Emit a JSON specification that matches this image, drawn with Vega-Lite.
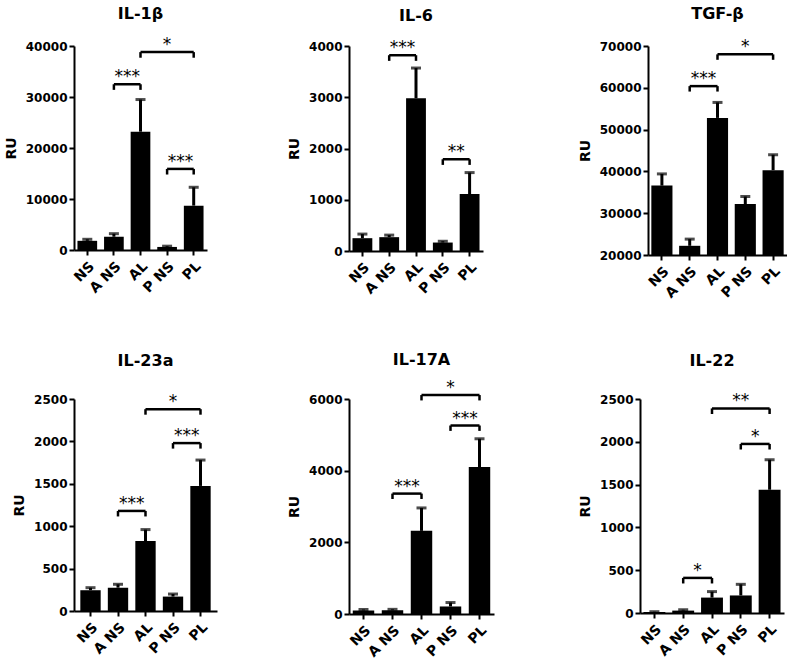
{
  "$schema": "https://vega.github.io/schema/vega-lite/v6.json",
  "padding": {"left": 4, "top": 6, "right": 0, "bottom": 0},
  "background": "white",
  "datasets": {
    "bars": [
      {"panel": "IL-1β", "group": "NS", "mean": 1800, "upper": 2100},
      {"panel": "IL-1β", "group": "A NS", "mean": 2600, "upper": 3200},
      {"panel": "IL-1β", "group": "AL", "mean": 23200, "upper": 29500},
      {"panel": "IL-1β", "group": "P NS", "mean": 600, "upper": 750},
      {"panel": "IL-1β", "group": "PL", "mean": 8700, "upper": 12300},
      {"panel": "IL-6", "group": "NS", "mean": 250, "upper": 330},
      {"panel": "IL-6", "group": "A NS", "mean": 270, "upper": 310},
      {"panel": "IL-6", "group": "AL", "mean": 2980, "upper": 3570},
      {"panel": "IL-6", "group": "P NS", "mean": 165, "upper": 190},
      {"panel": "IL-6", "group": "PL", "mean": 1110, "upper": 1530},
      {"panel": "TGF-β", "group": "NS", "mean": 36600, "upper": 39400},
      {"panel": "TGF-β", "group": "A NS", "mean": 22200, "upper": 23800},
      {"panel": "TGF-β", "group": "AL", "mean": 52800, "upper": 56500},
      {"panel": "TGF-β", "group": "P NS", "mean": 32200, "upper": 34000},
      {"panel": "TGF-β", "group": "PL", "mean": 40300, "upper": 44000},
      {"panel": "IL-23a", "group": "NS", "mean": 245, "upper": 275},
      {"panel": "IL-23a", "group": "A NS", "mean": 275, "upper": 315},
      {"panel": "IL-23a", "group": "AL", "mean": 825, "upper": 960},
      {"panel": "IL-23a", "group": "P NS", "mean": 170, "upper": 200},
      {"panel": "IL-23a", "group": "PL", "mean": 1475, "upper": 1780},
      {"panel": "IL-17A", "group": "NS", "mean": 100, "upper": 125},
      {"panel": "IL-17A", "group": "A NS", "mean": 105, "upper": 130},
      {"panel": "IL-17A", "group": "AL", "mean": 2320, "upper": 2960},
      {"panel": "IL-17A", "group": "P NS", "mean": 210, "upper": 320},
      {"panel": "IL-17A", "group": "PL", "mean": 4100, "upper": 4890},
      {"panel": "IL-22", "group": "NS", "mean": 12, "upper": 15},
      {"panel": "IL-22", "group": "A NS", "mean": 28, "upper": 38},
      {"panel": "IL-22", "group": "AL", "mean": 180, "upper": 250},
      {"panel": "IL-22", "group": "P NS", "mean": 205, "upper": 335},
      {"panel": "IL-22", "group": "PL", "mean": 1440, "upper": 1790}
    ],
    "brackets": [
      {"panel": "IL-1β", "x1": "A NS", "x2": "AL", "xm": "A NS", "span": 1, "y": 32500, "yd": 31400, "label": "***"},
      {"panel": "IL-1β", "x1": "AL", "x2": "PL", "xm": "P NS", "span": 2, "y": 38800, "yd": 37700, "label": "*"},
      {"panel": "IL-1β", "x1": "P NS", "x2": "PL", "xm": "P NS", "span": 1, "y": 15900, "yd": 14800, "label": "***"},
      {"panel": "IL-6", "x1": "A NS", "x2": "AL", "xm": "A NS", "span": 1, "y": 3820, "yd": 3710, "label": "***"},
      {"panel": "IL-6", "x1": "P NS", "x2": "PL", "xm": "P NS", "span": 1, "y": 1790, "yd": 1680, "label": "**"},
      {"panel": "TGF-β", "x1": "A NS", "x2": "AL", "xm": "A NS", "span": 1, "y": 60400, "yd": 59100, "label": "***"},
      {"panel": "TGF-β", "x1": "AL", "x2": "PL", "xm": "P NS", "span": 2, "y": 68000, "yd": 66700, "label": "*"},
      {"panel": "IL-23a", "x1": "A NS", "x2": "AL", "xm": "A NS", "span": 1, "y": 1180, "yd": 1115, "label": "***"},
      {"panel": "IL-23a", "x1": "P NS", "x2": "PL", "xm": "P NS", "span": 1, "y": 1980, "yd": 1915, "label": "***"},
      {"panel": "IL-23a", "x1": "AL", "x2": "PL", "xm": "P NS", "span": 2, "y": 2380, "yd": 2315, "label": "*"},
      {"panel": "IL-17A", "x1": "A NS", "x2": "AL", "xm": "A NS", "span": 1, "y": 3360, "yd": 3210, "label": "***"},
      {"panel": "IL-17A", "x1": "P NS", "x2": "PL", "xm": "P NS", "span": 1, "y": 5260, "yd": 5110, "label": "***"},
      {"panel": "IL-17A", "x1": "AL", "x2": "PL", "xm": "P NS", "span": 2, "y": 6110, "yd": 5960, "label": "*"},
      {"panel": "IL-22", "x1": "A NS", "x2": "AL", "xm": "A NS", "span": 1, "y": 410, "yd": 345, "label": "*"},
      {"panel": "IL-22", "x1": "P NS", "x2": "PL", "xm": "P NS", "span": 1, "y": 1975, "yd": 1910, "label": "*"},
      {"panel": "IL-22", "x1": "AL", "x2": "PL", "xm": "P NS", "span": 2, "y": 2390, "yd": 2325, "label": "**"}
    ]
  },
  "vconcat": [
    {
      "spacing": 95,
      "hconcat": [
        {
          "spacing": 80,
          "hconcat": [
            {
              "width": 133, "height": 204,
              "title": {"text": "IL-1β", "offset": 14},
              "data": {"name": "bars"},
              "transform": [{"filter": "datum.panel === 'IL-1β'"}],
              "layer": [
                {"mark": {"type": "bar", "color": "black", "width": {"band": 0.74}},
                 "encoding": {
                   "x": {"field": "group", "type": "nominal", "axis": {"title": null}, "scale": {"domain": ["NS", "A NS", "AL", "P NS", "PL"], "paddingInner": 0, "paddingOuter": 0}},
                   "y": {"field": "mean", "type": "quantitative", "axis": {"title": "RU", "format": "d", "values": [0, 10000, 20000, 30000, 40000]}, "scale": {"domain": [0, 40000], "nice": false}}}},
                {"mark": {"type": "rule", "color": "black", "strokeWidth": 3},
                 "encoding": {"x": {"field": "group", "type": "nominal"}, "y": {"field": "mean", "type": "quantitative"}, "y2": {"field": "upper"}}},
                {"mark": {"type": "tick", "color": "black", "thickness": 3, "size": 10},
                 "encoding": {"x": {"field": "group", "type": "nominal"}, "y": {"field": "upper", "type": "quantitative"}}},
                {"data": {"name": "brackets"}, "transform": [{"filter": "datum.panel === 'IL-1β'"}],
                 "layer": [
                   {"mark": {"type": "rule", "color": "black", "strokeWidth": 2.5}, "encoding": {"x": {"field": "x1", "type": "nominal"}, "x2": {"field": "x2"}, "y": {"field": "y", "type": "quantitative"}}},
                   {"mark": {"type": "rule", "color": "black", "strokeWidth": 2.5}, "encoding": {"x": {"field": "x1", "type": "nominal"}, "y": {"field": "y", "type": "quantitative"}, "y2": {"field": "yd"}}},
                   {"mark": {"type": "rule", "color": "black", "strokeWidth": 2.5}, "encoding": {"x": {"field": "x2", "type": "nominal"}, "y": {"field": "y", "type": "quantitative"}, "y2": {"field": "yd"}}},
                   {"transform": [{"filter": "datum.span === 1"}], "mark": {"type": "text", "font": "DejaVu Sans", "fontSize": 17, "baseline": "alphabetic", "dy": -2, "color": "black"}, "encoding": {"x": {"field": "xm", "type": "nominal", "bandPosition": 1}, "y": {"field": "y", "type": "quantitative"}, "text": {"field": "label"}}},
                   {"transform": [{"filter": "datum.span === 2"}], "mark": {"type": "text", "font": "DejaVu Sans", "fontSize": 17, "baseline": "alphabetic", "dy": -2, "color": "black"}, "encoding": {"x": {"field": "xm", "type": "nominal", "bandPosition": 0.5}, "y": {"field": "y", "type": "quantitative"}, "text": {"field": "label"}}}
                 ]}
              ]
            },
            {
              "width": 134, "height": 205,
              "title": {"text": "IL-6", "offset": 15},
              "data": {"name": "bars"},
              "transform": [{"filter": "datum.panel === 'IL-6'"}],
              "layer": [
                {"mark": {"type": "bar", "color": "black", "width": {"band": 0.74}},
                 "encoding": {
                   "x": {"field": "group", "type": "nominal", "axis": {"title": null}, "scale": {"domain": ["NS", "A NS", "AL", "P NS", "PL"], "paddingInner": 0, "paddingOuter": 0}},
                   "y": {"field": "mean", "type": "quantitative", "axis": {"title": "RU", "format": "d", "values": [0, 1000, 2000, 3000, 4000]}, "scale": {"domain": [0, 4000], "nice": false}}}},
                {"mark": {"type": "rule", "color": "black", "strokeWidth": 3},
                 "encoding": {"x": {"field": "group", "type": "nominal"}, "y": {"field": "mean", "type": "quantitative"}, "y2": {"field": "upper"}}},
                {"mark": {"type": "tick", "color": "black", "thickness": 3, "size": 10},
                 "encoding": {"x": {"field": "group", "type": "nominal"}, "y": {"field": "upper", "type": "quantitative"}}},
                {"data": {"name": "brackets"}, "transform": [{"filter": "datum.panel === 'IL-6'"}],
                 "layer": [
                   {"mark": {"type": "rule", "color": "black", "strokeWidth": 2.5}, "encoding": {"x": {"field": "x1", "type": "nominal"}, "x2": {"field": "x2"}, "y": {"field": "y", "type": "quantitative"}}},
                   {"mark": {"type": "rule", "color": "black", "strokeWidth": 2.5}, "encoding": {"x": {"field": "x1", "type": "nominal"}, "y": {"field": "y", "type": "quantitative"}, "y2": {"field": "yd"}}},
                   {"mark": {"type": "rule", "color": "black", "strokeWidth": 2.5}, "encoding": {"x": {"field": "x2", "type": "nominal"}, "y": {"field": "y", "type": "quantitative"}, "y2": {"field": "yd"}}},
                   {"transform": [{"filter": "datum.span === 1"}], "mark": {"type": "text", "font": "DejaVu Sans", "fontSize": 17, "baseline": "alphabetic", "dy": -2, "color": "black"}, "encoding": {"x": {"field": "xm", "type": "nominal", "bandPosition": 1}, "y": {"field": "y", "type": "quantitative"}, "text": {"field": "label"}}},
                   {"transform": [{"filter": "datum.span === 2"}], "mark": {"type": "text", "font": "DejaVu Sans", "fontSize": 17, "baseline": "alphabetic", "dy": -2, "color": "black"}, "encoding": {"x": {"field": "xm", "type": "nominal", "bandPosition": 0.5}, "y": {"field": "y", "type": "quantitative"}, "text": {"field": "label"}}}
                 ]}
              ]
            }
          ]
        },
        {
          "width": 139, "height": 209,
          "title": {"text": "TGF-β", "offset": 16},
          "data": {"name": "bars"},
          "transform": [{"filter": "datum.panel === 'TGF-β'"}],
          "layer": [
            {"mark": {"type": "bar", "color": "black", "width": {"band": 0.76}},
             "encoding": {
               "x": {"field": "group", "type": "nominal", "axis": {"title": null}, "scale": {"domain": ["NS", "A NS", "AL", "P NS", "PL"], "paddingInner": 0, "paddingOuter": 0}},
               "y": {"field": "mean", "type": "quantitative", "axis": {"title": "RU", "format": "d", "values": [20000, 30000, 40000, 50000, 60000, 70000]}, "scale": {"domain": [20000, 70000], "nice": false, "zero": false}},
               "y2": {"datum": 20000}}},
            {"mark": {"type": "rule", "color": "black", "strokeWidth": 3},
             "encoding": {"x": {"field": "group", "type": "nominal"}, "y": {"field": "mean", "type": "quantitative"}, "y2": {"field": "upper"}}},
            {"mark": {"type": "tick", "color": "black", "thickness": 3, "size": 10},
             "encoding": {"x": {"field": "group", "type": "nominal"}, "y": {"field": "upper", "type": "quantitative"}}},
            {"data": {"name": "brackets"}, "transform": [{"filter": "datum.panel === 'TGF-β'"}],
             "layer": [
               {"mark": {"type": "rule", "color": "black", "strokeWidth": 2.5}, "encoding": {"x": {"field": "x1", "type": "nominal"}, "x2": {"field": "x2"}, "y": {"field": "y", "type": "quantitative"}}},
               {"mark": {"type": "rule", "color": "black", "strokeWidth": 2.5}, "encoding": {"x": {"field": "x1", "type": "nominal"}, "y": {"field": "y", "type": "quantitative"}, "y2": {"field": "yd"}}},
               {"mark": {"type": "rule", "color": "black", "strokeWidth": 2.5}, "encoding": {"x": {"field": "x2", "type": "nominal"}, "y": {"field": "y", "type": "quantitative"}, "y2": {"field": "yd"}}},
               {"transform": [{"filter": "datum.span === 1"}], "mark": {"type": "text", "font": "DejaVu Sans", "fontSize": 17, "baseline": "alphabetic", "dy": -2, "color": "black"}, "encoding": {"x": {"field": "xm", "type": "nominal", "bandPosition": 1}, "y": {"field": "y", "type": "quantitative"}, "text": {"field": "label"}}},
               {"transform": [{"filter": "datum.span === 2"}], "mark": {"type": "text", "font": "DejaVu Sans", "fontSize": 17, "baseline": "alphabetic", "dy": -2, "color": "black"}, "encoding": {"x": {"field": "xm", "type": "nominal", "bandPosition": 0.5}, "y": {"field": "y", "type": "quantitative"}, "text": {"field": "label"}}}
             ]}
          ]
        }
      ]
    },
    {
      "spacing": 84,
      "hconcat": [
        {
          "spacing": 70,
          "hconcat": [
            {
              "width": 143, "height": 212,
              "title": {"text": "IL-23a", "offset": 24},
              "data": {"name": "bars"},
              "transform": [{"filter": "datum.panel === 'IL-23a'"}],
              "layer": [
                {"mark": {"type": "bar", "color": "black", "width": {"band": 0.74}},
                 "encoding": {
                   "x": {"field": "group", "type": "nominal", "axis": {"title": null}, "scale": {"domain": ["NS", "A NS", "AL", "P NS", "PL"], "paddingInner": 0, "paddingOuter": 0.1}},
                   "y": {"field": "mean", "type": "quantitative", "axis": {"title": "RU", "format": "d", "values": [0, 500, 1000, 1500, 2000, 2500]}, "scale": {"domain": [0, 2500], "nice": false}}}},
                {"mark": {"type": "rule", "color": "black", "strokeWidth": 3},
                 "encoding": {"x": {"field": "group", "type": "nominal"}, "y": {"field": "mean", "type": "quantitative"}, "y2": {"field": "upper"}}},
                {"mark": {"type": "tick", "color": "black", "thickness": 3, "size": 10},
                 "encoding": {"x": {"field": "group", "type": "nominal"}, "y": {"field": "upper", "type": "quantitative"}}},
                {"data": {"name": "brackets"}, "transform": [{"filter": "datum.panel === 'IL-23a'"}],
                 "layer": [
                   {"mark": {"type": "rule", "color": "black", "strokeWidth": 2.5}, "encoding": {"x": {"field": "x1", "type": "nominal"}, "x2": {"field": "x2"}, "y": {"field": "y", "type": "quantitative"}}},
                   {"mark": {"type": "rule", "color": "black", "strokeWidth": 2.5}, "encoding": {"x": {"field": "x1", "type": "nominal"}, "y": {"field": "y", "type": "quantitative"}, "y2": {"field": "yd"}}},
                   {"mark": {"type": "rule", "color": "black", "strokeWidth": 2.5}, "encoding": {"x": {"field": "x2", "type": "nominal"}, "y": {"field": "y", "type": "quantitative"}, "y2": {"field": "yd"}}},
                   {"transform": [{"filter": "datum.span === 1"}], "mark": {"type": "text", "font": "DejaVu Sans", "fontSize": 17, "baseline": "alphabetic", "dy": -2, "color": "black"}, "encoding": {"x": {"field": "xm", "type": "nominal", "bandPosition": 1}, "y": {"field": "y", "type": "quantitative"}, "text": {"field": "label"}}},
                   {"transform": [{"filter": "datum.span === 2"}], "mark": {"type": "text", "font": "DejaVu Sans", "fontSize": 17, "baseline": "alphabetic", "dy": -2, "color": "black"}, "encoding": {"x": {"field": "xm", "type": "nominal", "bandPosition": 0.5}, "y": {"field": "y", "type": "quantitative"}, "text": {"field": "label"}}}
                 ]}
              ]
            },
            {
              "width": 145, "height": 215,
              "title": {"text": "IL-17A", "offset": 11},
              "data": {"name": "bars"},
              "transform": [{"filter": "datum.panel === 'IL-17A'"}],
              "layer": [
                {"mark": {"type": "bar", "color": "black", "width": {"band": 0.74}},
                 "encoding": {
                   "x": {"field": "group", "type": "nominal", "axis": {"title": null}, "scale": {"domain": ["NS", "A NS", "AL", "P NS", "PL"], "paddingInner": 0, "paddingOuter": 0}},
                   "y": {"field": "mean", "type": "quantitative", "axis": {"title": "RU", "format": "d", "values": [0, 2000, 4000, 6000]}, "scale": {"domain": [0, 6000], "nice": false}}}},
                {"mark": {"type": "rule", "color": "black", "strokeWidth": 3},
                 "encoding": {"x": {"field": "group", "type": "nominal"}, "y": {"field": "mean", "type": "quantitative"}, "y2": {"field": "upper"}}},
                {"mark": {"type": "tick", "color": "black", "thickness": 3, "size": 10},
                 "encoding": {"x": {"field": "group", "type": "nominal"}, "y": {"field": "upper", "type": "quantitative"}}},
                {"data": {"name": "brackets"}, "transform": [{"filter": "datum.panel === 'IL-17A'"}],
                 "layer": [
                   {"mark": {"type": "rule", "color": "black", "strokeWidth": 2.5}, "encoding": {"x": {"field": "x1", "type": "nominal"}, "x2": {"field": "x2"}, "y": {"field": "y", "type": "quantitative"}}},
                   {"mark": {"type": "rule", "color": "black", "strokeWidth": 2.5}, "encoding": {"x": {"field": "x1", "type": "nominal"}, "y": {"field": "y", "type": "quantitative"}, "y2": {"field": "yd"}}},
                   {"mark": {"type": "rule", "color": "black", "strokeWidth": 2.5}, "encoding": {"x": {"field": "x2", "type": "nominal"}, "y": {"field": "y", "type": "quantitative"}, "y2": {"field": "yd"}}},
                   {"transform": [{"filter": "datum.span === 1"}], "mark": {"type": "text", "font": "DejaVu Sans", "fontSize": 17, "baseline": "alphabetic", "dy": -2, "color": "black"}, "encoding": {"x": {"field": "xm", "type": "nominal", "bandPosition": 1}, "y": {"field": "y", "type": "quantitative"}, "text": {"field": "label"}}},
                   {"transform": [{"filter": "datum.span === 2"}], "mark": {"type": "text", "font": "DejaVu Sans", "fontSize": 17, "baseline": "alphabetic", "dy": -2, "color": "black"}, "encoding": {"x": {"field": "xm", "type": "nominal", "bandPosition": 0.5}, "y": {"field": "y", "type": "quantitative"}, "text": {"field": "label"}}}
                 ]}
              ]
            }
          ]
        },
        {
          "width": 144, "height": 214,
          "title": {"text": "IL-22", "offset": 23},
          "data": {"name": "bars"},
          "transform": [{"filter": "datum.panel === 'IL-22'"}],
          "layer": [
            {"mark": {"type": "bar", "color": "black", "width": {"band": 0.76}},
             "encoding": {
               "x": {"field": "group", "type": "nominal", "axis": {"title": null}, "scale": {"domain": ["NS", "A NS", "AL", "P NS", "PL"], "paddingInner": 0, "paddingOuter": 0}},
               "y": {"field": "mean", "type": "quantitative", "axis": {"title": "RU", "format": "d", "values": [0, 500, 1000, 1500, 2000, 2500]}, "scale": {"domain": [0, 2500], "nice": false}}}},
            {"mark": {"type": "rule", "color": "black", "strokeWidth": 3},
             "encoding": {"x": {"field": "group", "type": "nominal"}, "y": {"field": "mean", "type": "quantitative"}, "y2": {"field": "upper"}}},
            {"mark": {"type": "tick", "color": "black", "thickness": 3, "size": 10},
             "encoding": {"x": {"field": "group", "type": "nominal"}, "y": {"field": "upper", "type": "quantitative"}}},
            {"data": {"name": "brackets"}, "transform": [{"filter": "datum.panel === 'IL-22'"}],
             "layer": [
               {"mark": {"type": "rule", "color": "black", "strokeWidth": 2.5}, "encoding": {"x": {"field": "x1", "type": "nominal"}, "x2": {"field": "x2"}, "y": {"field": "y", "type": "quantitative"}}},
               {"mark": {"type": "rule", "color": "black", "strokeWidth": 2.5}, "encoding": {"x": {"field": "x1", "type": "nominal"}, "y": {"field": "y", "type": "quantitative"}, "y2": {"field": "yd"}}},
               {"mark": {"type": "rule", "color": "black", "strokeWidth": 2.5}, "encoding": {"x": {"field": "x2", "type": "nominal"}, "y": {"field": "y", "type": "quantitative"}, "y2": {"field": "yd"}}},
               {"transform": [{"filter": "datum.span === 1"}], "mark": {"type": "text", "font": "DejaVu Sans", "fontSize": 17, "baseline": "alphabetic", "dy": -2, "color": "black"}, "encoding": {"x": {"field": "xm", "type": "nominal", "bandPosition": 1}, "y": {"field": "y", "type": "quantitative"}, "text": {"field": "label"}}},
               {"transform": [{"filter": "datum.span === 2"}], "mark": {"type": "text", "font": "DejaVu Sans", "fontSize": 17, "baseline": "alphabetic", "dy": -2, "color": "black"}, "encoding": {"x": {"field": "xm", "type": "nominal", "bandPosition": 0.5}, "y": {"field": "y", "type": "quantitative"}, "text": {"field": "label"}}}
             ]}
          ]
        }
      ]
    }
  ],
  "spacing": 51,
  "config": {
    "view": {"stroke": null},
    "title": {"font": "DejaVu Sans", "fontSize": 16, "fontWeight": "bold", "color": "black", "frame": "group", "anchor": "middle"},
    "axis": {"domainColor": "black", "domainWidth": 2, "tickColor": "black", "tickWidth": 2, "tickSize": 5, "labelColor": "black", "labelFont": "DejaVu Sans", "labelFontWeight": "bold", "labelFontSize": 12, "titleFont": "DejaVu Sans", "titleFontWeight": "bold", "titleFontSize": 14, "titleColor": "black", "grid": false},
    "axisX": {"labelAngle": -45, "labelPadding": 4, "labelFontSize": 14},
    "axisY": {"titlePadding": 7}
  }
}
